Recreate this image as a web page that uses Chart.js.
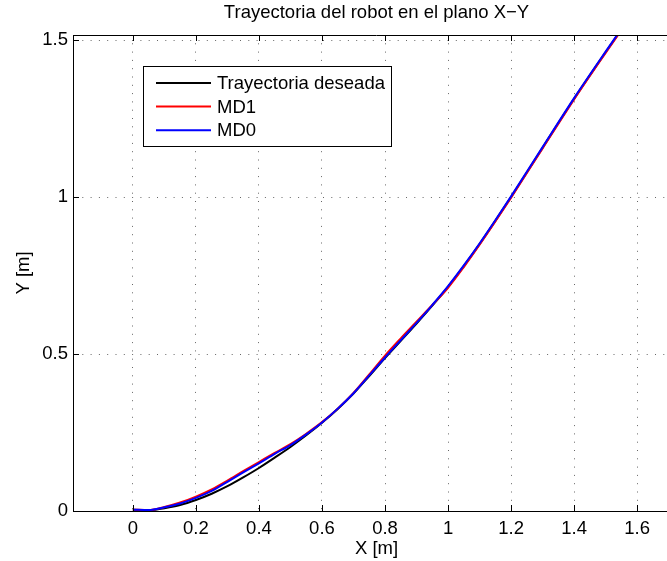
<!DOCTYPE html>
<html>
<head>
<meta charset="utf-8">
<title>Trayectoria del robot</title>
<script src="https://cdn.jsdelivr.net/npm/chart.js@4.4.1/dist/chart.umd.min.js"></script>
<style>
  html, body { margin: 0; padding: 0; background: #fff; overflow: hidden; }
</style>
</head>
<body>
<canvas id="trayectoria" width="680" height="561"></canvas>
<script>
// posiciones X de las muestras (m)
const xMuestras = [0, 0.05, 0.1, 0.15, 0.2, 0.25, 0.3, 0.35, 0.4, 0.45, 0.5, 0.55, 0.6, 0.65, 0.7,
  0.75, 0.8, 0.85, 0.9, 0.95, 1.0, 1.05, 1.1, 1.15, 1.2, 1.3, 1.4, 1.5, 1.56];

// Y (m) de cada trayectoria
const yDeseada = [0.004, 0.002, 0.009, 0.019, 0.035, 0.055, 0.079, 0.107, 0.137, 0.170, 0.204, 0.241,
  0.281, 0.325, 0.374, 0.430, 0.487, 0.542, 0.597, 0.654, 0.714, 0.780, 0.850, 0.924, 1.000, 1.157,
  1.313, 1.461, 1.548];
const yMD1 = [0.004, 0.003, 0.013, 0.027, 0.046, 0.069, 0.097, 0.127, 0.156, 0.185, 0.213, 0.246,
  0.283, 0.326, 0.376, 0.435, 0.495, 0.550, 0.603, 0.656, 0.711, 0.777, 0.848, 0.922, 0.998, 1.155,
  1.311, 1.459, 1.546];
const yMD0 = [0.004, 0.003, 0.012, 0.024, 0.042, 0.064, 0.093, 0.123, 0.152, 0.182, 0.210, 0.244,
  0.282, 0.326, 0.375, 0.432, 0.489, 0.544, 0.599, 0.656, 0.716, 0.782, 0.852, 0.926, 1.002, 1.159,
  1.315, 1.463, 1.550];

const etiquetas = ['Trayectoria deseada', 'MD1', 'MD0'];
const colores = ['#000000', '#ff0000', '#0000ff'];

const xTicks = [0, 0.2, 0.4, 0.6, 0.8, 1, 1.2, 1.4, 1.6];
const yTicks = [0, 0.5, 1, 1.5];

const FUENTE = '"Liberation Sans", Arial, Helvetica, sans-serif';
Chart.defaults.font.family = FUENTE;
Chart.defaults.font.size = 18.5;
Chart.defaults.color = '#000';

const puntos = ys => xMuestras.map((x, i) => ({ x: x, y: ys[i] }));

// caja tipo matlab: borde superior, marcas hacia dentro y leyenda con marco
const marcoEjes = {
  id: 'marcoEjes',
  afterDatasetsDraw(chart) {
    const { ctx, chartArea: a, scales: { x, y } } = chart;
    const L = 6;
    ctx.save();
    ctx.strokeStyle = '#000';
    ctx.lineWidth = 1;
    ctx.beginPath();
    ctx.moveTo(a.left, a.top + 0.5);
    ctx.lineTo(a.right, a.top + 0.5);
    xTicks.forEach(v => {
      const px = Math.round(x.getPixelForValue(v)) + 0.5;
      ctx.moveTo(px, a.bottom);
      ctx.lineTo(px, a.bottom - L);
      ctx.moveTo(px, a.top);
      ctx.lineTo(px, a.top + L);
    });
    yTicks.forEach(v => {
      const py = Math.round(y.getPixelForValue(v)) + 0.5;
      ctx.moveTo(a.left, py);
      ctx.lineTo(a.left + L, py);
    });
    ctx.stroke();

    // leyenda
    const bx = 143.5, by = 66.5, bw = 248, bh = 80;
    ctx.fillStyle = '#fff';
    ctx.fillRect(bx, by, bw, bh);
    ctx.strokeRect(bx, by, bw, bh);
    ctx.font = '18.5px ' + FUENTE;
    ctx.textBaseline = 'middle';
    ctx.textAlign = 'left';
    chart.data.datasets.forEach((ds, i) => {
      const ly = 83 + i * 23.6;
      ctx.strokeStyle = ds.borderColor;
      ctx.lineWidth = 2;
      ctx.beginPath();
      ctx.moveTo(156, ly);
      ctx.lineTo(211, ly);
      ctx.stroke();
      ctx.fillStyle = '#000';
      ctx.fillText(ds.label, 217, ly + 1);
    });
    ctx.restore();
  }
};

const series = [yDeseada, yMD1, yMD0];

new Chart(document.getElementById('trayectoria'), {
  type: 'scatter',
  data: {
    datasets: series.map((ys, i) => ({
      label: etiquetas[i],
      data: puntos(ys),
      showLine: true,
      borderColor: colores[i],
      backgroundColor: colores[i],
      borderWidth: 2,
      pointRadius: 0,
      cubicInterpolationMode: 'monotone',
      order: 3 - i
    }))
  },
  options: {
    responsive: false,
    animation: false,
    events: [],
    layout: { padding: 0 },
    plugins: {
      legend: { display: false },
      tooltip: { enabled: false },
      title: {
        display: true,
        text: 'Trayectoria del robot en el plano X\u2212Y',
        fullSize: false,
        color: '#000',
        font: { size: 18.5, weight: 'normal' },
        padding: { top: 2, bottom: 10.8 }
      }
    },
    scales: {
      x: {
        type: 'linear',
        min: -0.19,
        max: 1.736,
        afterBuildTicks: s => { s.ticks = xTicks.map(v => ({ value: v })); },
        afterFit: s => { s.height = 50; },
        ticks: {
          padding: 7,
          maxRotation: 0,
          callback: v => String(Math.round(v * 10) / 10)
        },
        grid: { color: '#666', lineWidth: 1, drawTicks: false },
        border: { color: '#000', width: 1, dash: [1, 7.3] },
        title: { display: true, text: 'X [m]', padding: { top: 0, bottom: 1 } }
      },
      y: {
        type: 'linear',
        min: 0,
        max: 1.516,
        afterBuildTicks: s => { s.ticks = yTicks.map(v => ({ value: v })); },
        afterFit: s => { s.width = 73; },
        ticks: {
          padding: 5,
          callback: v => String(v)
        },
        grid: { color: '#666', lineWidth: 1, drawTicks: false },
        border: { color: '#000', width: 1, dash: [1, 7.3] },
        title: { display: true, text: 'Y [m]', padding: { top: 13, bottom: 0 } }
      }
    }
  },
  plugins: [marcoEjes]
});
</script>
</body>
</html>
